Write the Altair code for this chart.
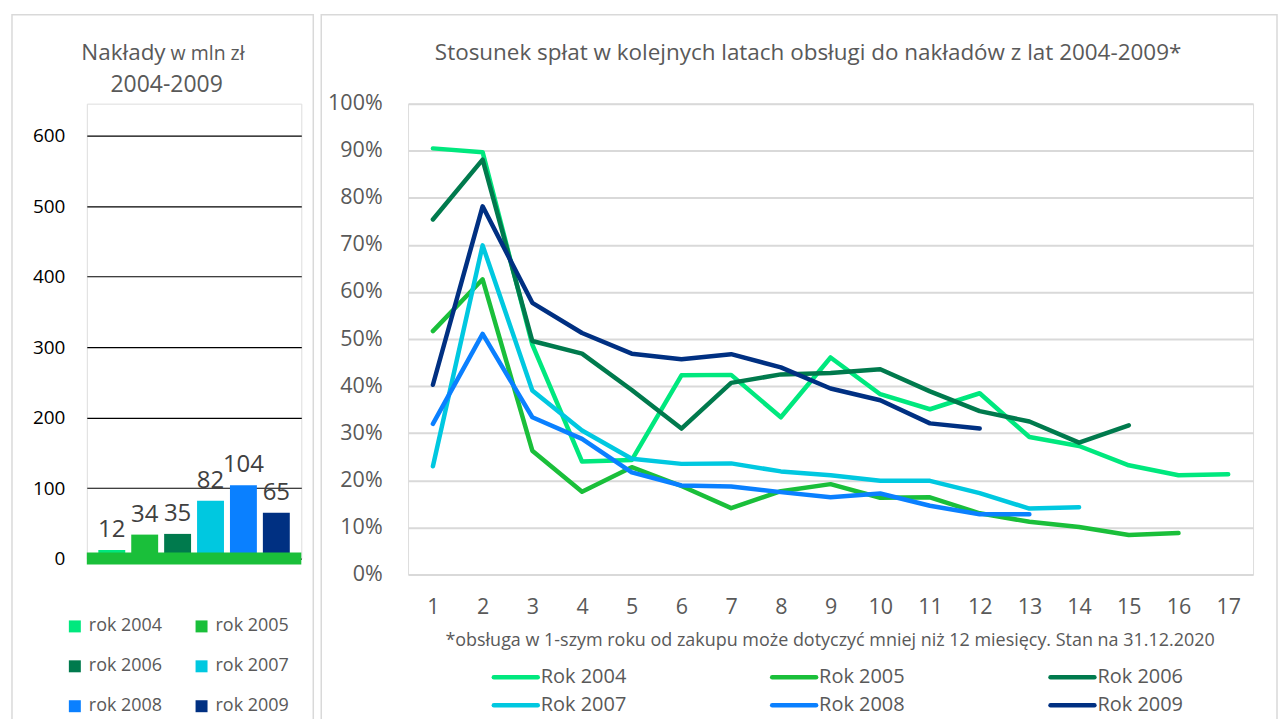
import altair as alt
import pandas as pd

# ---- data ----
bar_years = ["rok 2004", "rok 2005", "rok 2006", "rok 2007", "rok 2008", "rok 2009"]
naklady = [12, 34, 35, 82, 104, 65]
bar_colors = ["#00E87E", "#1ABF3A", "#007A4D", "#00C8E0", "#0A80FF", "#003082"]

series_names = ["Rok 2004", "Rok 2005", "Rok 2006", "Rok 2007", "Rok 2008", "Rok 2009"]
s2004 = [90.5, 89.7, 48.8, 24.0, 24.3, 42.3, 42.4, 33.4, 46.1, 38.3, 35.1, 38.5, 29.2, 27.3, 23.2, 21.1, 21.3]
s2005 = [51.7, 62.7, 26.3, 17.6, 22.8, 18.8, 14.1, 17.7, 19.2, 16.3, 16.4, 13.0, 11.2, 10.1, 8.4, 8.8]
s2006 = [75.4, 88.1, 49.6, 46.9, 39.2, 31.0, 40.7, 42.5, 42.8, 43.6, 38.9, 34.7, 32.5, 28.0, 31.7]
s2007 = [23.0, 69.9, 39.1, 30.6, 24.6, 23.5, 23.6, 21.9, 21.1, 19.9, 19.9, 17.3, 14.0, 14.3]
s2008 = [32.0, 51.1, 33.4, 28.8, 21.7, 18.9, 18.7, 17.5, 16.4, 17.2, 14.6, 12.8, 12.8]
s2009 = [40.3, 78.2, 57.7, 51.3, 46.9, 45.7, 46.8, 44.0, 39.5, 37.0, 32.1, 31.0]
all_series = [s2004, s2005, s2006, s2007, s2008, s2009]
x_ticks = list(range(1, 18))

left_title_a = "Nakłady"
left_title_b = "w mln zł"
left_title_c = "2004-2009"
right_title = "Stosunek spłat w kolejnych latach obsługi do nakładów z lat 2004-2009*"
footnote = "*obsługa w 1-szym roku od zakupu może dotyczyć mniej niż 12 miesięcy. Stan na 31.12.2020"

FONT = "Open Sans"
GRAY = "#595959"

bars_df = pd.DataFrame({"rok": bar_years, "naklady": naklady})
rows = []
for name, vals in zip(series_names, all_series):
    for i, v in enumerate(vals):
        rows.append({"seria": name, "okres": i + 1, "udzial": v / 100})
lines_df = pd.DataFrame(rows)
one = pd.DataFrame({"a": [0]})

# ---------------- left panel ----------------
LW, LH = 215, 456
ytop = 600 * LH / (LH - 32)  # plot top above the 600 gridline

ybar = alt.Y("naklady:Q",
             scale=alt.Scale(domain=[0, ytop], nice=False),
             axis=alt.Axis(values=[0, 100, 200, 300, 400, 500, 600], grid=True,
                           gridColor="#000000", gridWidth=1.2, domain=False, ticks=False,
                           labelColor="#000000", labelFontSize=19, labelPadding=22,
                           labelFont=FONT),
             title=None)
xbar = alt.X("rok:N", sort=bar_years,
             scale=alt.Scale(paddingInner=0.182, paddingOuter=0.35),
             axis=None)

bars = alt.Chart(bars_df).mark_bar().encode(
    x=xbar, y=ybar,
    color=alt.Color("rok:N", sort=bar_years,
                    scale=alt.Scale(domain=bar_years, range=bar_colors),
                    legend=alt.Legend(title=None, orient="none", legendX=-21, legendY=515,
                                      columns=2, direction="horizontal",
                                      symbolType="square", symbolSize=144,
                                      symbolStrokeWidth=0, labelFontSize=18, labelColor=GRAY,
                                      labelFont=FONT, labelOffset=5, rowPadding=22,
                                      columnPadding=30, padding=0)),
)
bar_text = alt.Chart(bars_df).mark_text(baseline="bottom", dy=-8, fontSize=24,
                                        color="#404040", font=FONT).encode(
    x=xbar, y=alt.Y("naklady:Q"), text="naklady:Q")
green_base = alt.Chart(one).mark_rule(strokeWidth=12, color="#1ABF3A").encode(
    x=alt.value(0), x2=alt.value(LW), y=alt.datum(0))
lt_a = alt.Chart(one).mark_text(text=left_title_a, align="right", baseline="alphabetic",
                                fontSize=22.5, color=GRAY, font=FONT).encode(
    x=alt.value(79), y=alt.value(-44))
lt_b = alt.Chart(one).mark_text(text=left_title_b, align="left", baseline="alphabetic",
                                fontSize=19.5, color=GRAY, font=FONT).encode(
    x=alt.value(84), y=alt.value(-44))
lt_c = alt.Chart(one).mark_text(text=left_title_c, align="center", baseline="alphabetic",
                                fontSize=23, color=GRAY, font=FONT).encode(
    x=alt.value(80), y=alt.value(-12))
left_frame = alt.Chart(one).mark_rect(fillOpacity=0, stroke="#D9D9D9", strokeWidth=1.5).encode(
    x=alt.value(-75), x2=alt.value(227), y=alt.value(-89), y2=alt.value(640))

left = alt.layer(left_frame, bars, green_base, bar_text, lt_a, lt_b, lt_c).properties(
    width=LW, height=LH)

# ---------------- right panel ----------------
RW, RH = 847, 472
line_color_scale = alt.Scale(domain=series_names, range=bar_colors)
xline = alt.X("okres:Q", scale=alt.Scale(domain=[0.5, 17.5], nice=False, zero=False),
              axis=alt.Axis(values=x_ticks, format="d", grid=False, domain=False, ticks=False,
                            labelFontSize=21.5, labelColor=GRAY, labelPadding=22, labelFont=FONT),
              title=None)
yline = alt.Y("udzial:Q", scale=alt.Scale(domain=[0, 1], nice=False),
              axis=alt.Axis(values=[i / 10 for i in range(11)], format=".0%", grid=True,
                            gridColor="#D9D9D9", gridWidth=2, domain=False, ticks=False,
                            labelFontSize=21.5, labelColor=GRAY, labelPadding=26, labelFont=FONT),
              title=None)
lines = alt.Chart(lines_df).mark_line(strokeWidth=4.5, strokeCap="round", strokeJoin="round").encode(
    x=xline, y=yline,
    color=alt.Color("seria:N", sort=series_names, scale=line_color_scale, legend=None),
    order=alt.Order("okres:Q"),
)

# legend for the lines (3 columns x 2 rows), drawn from series_names
legend_layers = []
for i, name in enumerate(series_names):
    col, row = i % 3, i // 3
    lx = 86 + col * 279
    ly = 575 + row * 28
    src = pd.DataFrame({"seria": [name]})
    legend_layers.append(
        alt.Chart(src).mark_rule(strokeWidth=4.5, strokeCap="round").encode(
            x=alt.value(lx), x2=alt.value(lx + 44), y=alt.value(ly),
            color=alt.Color("seria:N", scale=line_color_scale, legend=None)))
    legend_layers.append(
        alt.Chart(src).mark_text(align="left", baseline="middle", fontSize=20,
                                 color=GRAY, font=FONT).encode(
            x=alt.value(lx + 47), y=alt.value(ly), text="seria:N"))

rt = alt.Chart(one).mark_text(text=right_title, align="center", baseline="middle",
                              fontSize=22.5, color=GRAY, font=FONT).encode(
    x=alt.value(401), y=alt.value(-51))
fn = alt.Chart(one).mark_text(text=footnote, align="center", baseline="middle",
                              fontSize=18, color=GRAY, font=FONT).encode(
    x=alt.value(423), y=alt.value(539))
right_frame = alt.Chart(one).mark_rect(fillOpacity=0, stroke="#D9D9D9", strokeWidth=1.5).encode(
    x=alt.value(-87), x2=alt.value(871), y=alt.value(-89), y2=alt.value(640))

right = alt.layer(right_frame, lines, rt, fn, *legend_layers).properties(width=RW, height=RH)

chart = alt.hconcat(left, right, spacing=107, bounds="flush").resolve_scale(
    color="independent").properties(
    padding={"left": 2, "top": 4, "right": 0, "bottom": 0}
).configure_view(stroke=None).configure(font=FONT, background="white")

chart.save("out.html", embed_options={"renderer": "svg", "actions": False})
